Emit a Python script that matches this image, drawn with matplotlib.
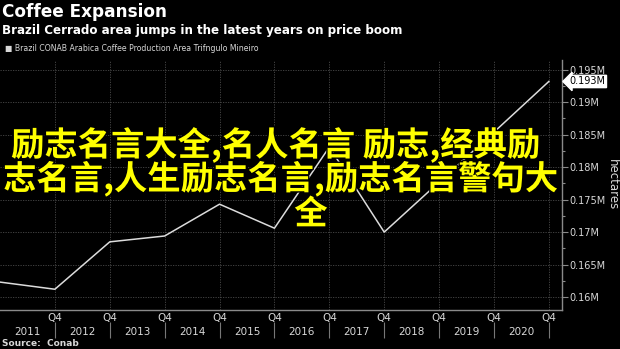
import numpy as np
import matplotlib.pyplot as plt
import matplotlib.patheffects as pe
from matplotlib.ticker import FixedLocator, FuncFormatter
from matplotlib.transforms import blended_transform_factory

# Data: Q4 of each year, area in million hectares
years = [2010, 2011, 2012, 2013, 2014, 2015, 2016, 2017, 2018, 2019, 2020]
area_m = [0.1623, 0.1612, 0.1685, 0.1694, 0.1743, 0.1706, 0.1831, 0.1700, 0.1777, 0.1854, 0.1932]

q4_ticks = [2011, 2012, 2013, 2014, 2015, 2016, 2017, 2018, 2019, 2020]
year_labels = ["2011", "2012", "2013", "2014", "2015", "2016", "2017", "2018", "2019", "2020"]
y_major = [0.16, 0.165, 0.17, 0.175, 0.18, 0.185, 0.19, 0.195]

overlay_lines = ["励志名言大全,名人名言 励志,经典励", "志名言,人生励志名言,励志名言警句大", "全"]

fg = "#d8d8d8"
grid_c = "#4a4a4a"
spine_c = "#8a8a8a"

fig = plt.figure(figsize=(6.2, 3.49), dpi=100, facecolor="black")
ax = fig.add_axes([0.0, 0.1117, 0.9065, 0.7163], facecolor="black")

ax.plot(years, area_m, color="#dcdcdc", lw=1.1)

ax.set_xlim(2010, 2020.24)
ax.set_ylim(0.158, 0.1965)

# x axis: Q4 labels on major ticks, year labels between them
ax.xaxis.set_major_locator(FixedLocator(q4_ticks))
ax.set_xticklabels(["Q4"] * len(q4_ticks))
ax.xaxis.set_minor_locator(FixedLocator([y - 0.5 for y in q4_ticks]))
ax.set_xticklabels(year_labels, minor=True)
ax.tick_params(axis="x", which="major", length=0, pad=2, labelsize=7.5, colors=fg)
ax.tick_params(axis="x", which="minor", length=0, pad=12, labelsize=7.5, colors=fg)

# separators between year labels
trans_x = blended_transform_factory(ax.transData, ax.transAxes)
ax.vlines(q4_ticks, -0.11, -0.048, transform=trans_x, color="#777777", lw=0.8, clip_on=False)

# y axis on the right
ax.yaxis.tick_right()
ax.yaxis.set_label_position("right")
ax.yaxis.set_major_locator(FixedLocator(y_major))
ax.yaxis.set_minor_locator(FixedLocator([v + 0.0025 for v in y_major]))
ax.yaxis.set_major_formatter(FuncFormatter(lambda v, p: f"{v:g}M"))
ax.tick_params(axis="y", which="major", length=4, width=0.8, labelsize=7, colors=fg, pad=1)
ax.tick_params(axis="y", which="minor", length=2.5, width=0.8)
ax.tick_params(axis="y", which="both", color=spine_c)
ax.set_ylabel("hectares", rotation=270, color=fg, fontsize=8.5, va="center")
ax.yaxis.set_label_coords(1.089, 0.5)

ax.grid(True, which="major", color=grid_c, lw=0.6, ls=(0, (1.5, 1.5)))

for s in ["top", "left"]:
    ax.spines[s].set_visible(False)
for s in ["bottom", "right"]:
    ax.spines[s].set_color(spine_c)
    ax.spines[s].set_linewidth(1.0)

# last value tag
trans_y = blended_transform_factory(ax.transAxes, ax.transData)
last = area_m[-1]
ax.text(1.013, last, f"{last:.3f}M", transform=trans_y, ha="left", va="center",
        fontsize=7, color="black", clip_on=False,
        bbox=dict(boxstyle="larrow,pad=0.12", fc="white", ec="white"))

# titles
fig.text(0.004, 0.99, "Coffee Expansion", color="white", fontsize=12.2,
         fontweight="bold", ha="left", va="top")
fig.text(0.004, 0.93, "Brazil Cerrado area jumps in the latest years on price boom",
         color="white", fontsize=8.55, fontweight="bold", ha="left", va="top")
fig.text(0.008, 0.86, "■ Brazil CONAB Arabica Coffee Production Area Trifngulo Mineiro",
         color=fg, fontsize=5.6, ha="left", va="center")
fig.text(0.004, 0.017, "Source:  Conab", color=fg, fontsize=6.5, fontweight="bold",
         ha="left", va="center")

# overlay text
stroke = [pe.withStroke(linewidth=2, foreground="black")]
overlay_x = [276 / 620, 281 / 620, 311 / 620]
overlay_y = [0.585, 0.488, 0.385]
for txt, xx, yy in zip(overlay_lines, overlay_x, overlay_y):
    fig.text(xx, yy, txt, color="#ffff00", fontsize=24, fontweight="bold",
             family=["Noto Sans CJK SC", "DejaVu Sans"], ha="center", va="center",
             path_effects=stroke)

fig.savefig("out.png", dpi=100, facecolor="black")
